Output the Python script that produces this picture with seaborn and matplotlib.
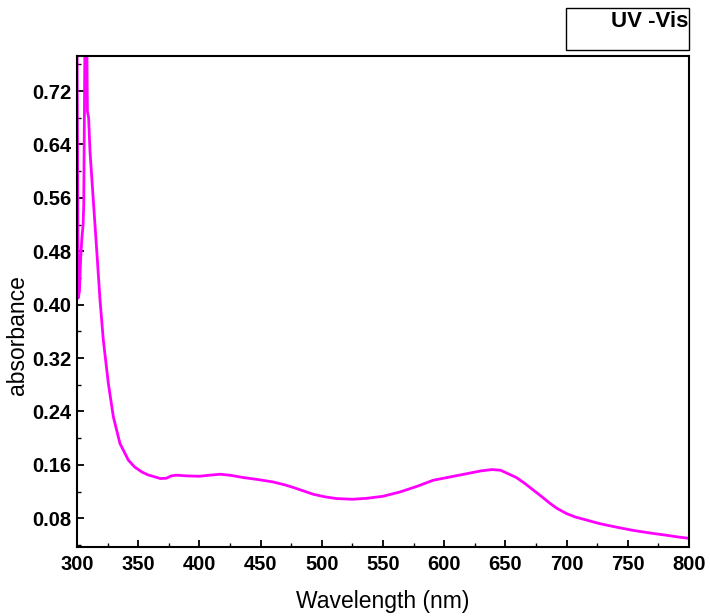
import numpy as np
import pandas as pd
import matplotlib
matplotlib.use("Agg")
import matplotlib.pyplot as plt
import seaborn as sns
from matplotlib.patches import Rectangle
from matplotlib.ticker import MultipleLocator

wavelength = [300.0, 301.0, 302.0, 303.0, 304.0, 305.0, 305.5, 306.5, 308.0,
              308.5, 309.5, 310.6, 313.3, 316.1, 318.8, 321.5, 325.6, 329.7,
              335.1, 342.0, 347.0, 352.9, 358.0, 363.7, 368.0, 373.0, 377.0,
              381.0, 390.0, 400.0, 408.0, 417.0, 425.0, 436.0, 448.0, 460.0,
              470.0, 477.0, 485.0, 493.0, 503.0, 512.0, 525.0, 537.0, 550.0,
              564.0, 578.0, 591.0, 605.0, 619.0, 630.0, 639.0, 646.0, 652.0,
              659.0, 666.0, 673.0, 680.0, 686.0, 692.0, 700.0, 707.0, 717.0,
              727.0, 740.0, 754.0, 768.0, 782.0, 791.0, 800.0]
absorbance = [0.80, 0.41, 0.42, 0.47, 0.50, 0.52, 0.55, 0.80, 0.80,
              0.69, 0.68, 0.63, 0.557, 0.482, 0.407, 0.347, 0.282, 0.232,
              0.192, 0.167, 0.157, 0.1495, 0.145, 0.142, 0.1396, 0.140, 0.1435,
              0.1446, 0.1435, 0.143, 0.1445, 0.146, 0.1445, 0.141, 0.138,
              0.1345, 0.130, 0.126, 0.121, 0.116, 0.112, 0.1096, 0.1085, 0.110,
              0.113, 0.1195, 0.128, 0.137, 0.142, 0.147, 0.151, 0.153, 0.152,
              0.147, 0.141, 0.132, 0.122, 0.112, 0.103, 0.095, 0.087, 0.082,
              0.077, 0.072, 0.067, 0.062, 0.058, 0.0545, 0.052, 0.050]
x_ticks = [300, 350, 400, 450, 500, 550, 600, 650, 700, 750, 800]
y_ticks = [0.08, 0.16, 0.24, 0.32, 0.40, 0.48, 0.56, 0.64, 0.72]
legend_label = "UV -Vis"

df = pd.DataFrame({"Wavelength": wavelength, "absorbance": absorbance})

sns.set_style("ticks")
plt.rcParams["font.family"] = ["Liberation Sans", "DejaVu Sans"]
plt.rcParams["text.color"] = "black"
plt.rcParams["axes.labelcolor"] = "black"
plt.rcParams["xtick.color"] = "black"
plt.rcParams["ytick.color"] = "black"

fig = plt.figure(figsize=(7.1, 6.16), dpi=100)
ax = fig.add_axes([77 / 710, (616 - 547) / 616, 612 / 710, 491 / 616])

sns.lineplot(data=df, x="Wavelength", y="absorbance", ax=ax,
             color="#FF00FF", linewidth=2.0, sort=False)

ax.set_xlim(300, 800)
ax.set_ylim(0.037, 0.7725)
ax.set_xticks(x_ticks)
ax.set_yticks(y_ticks)
ax.set_xticklabels([str(t) for t in x_ticks])
ax.set_yticklabels([f"{t:.2f}" for t in y_ticks])
ax.xaxis.set_minor_locator(MultipleLocator(25))
ax.yaxis.set_minor_locator(MultipleLocator(0.04))
ax.tick_params(axis="both", which="major", direction="in", length=5, width=1.3,
               labelsize=14.5, top=False, right=False, colors="black")
ax.tick_params(axis="both", which="minor", direction="in", length=3, width=1.0,
               top=False, right=False, colors="black")
ax.tick_params(axis="x", pad=6)
ax.tick_params(axis="y", pad=4)
for lab in ax.get_xticklabels() + ax.get_yticklabels():
    lab.set_fontweight("bold")
for s in ax.spines.values():
    s.set_visible(True)
    s.set_linewidth(1.5)
    s.set_color("black")

ax.set_xlabel("Wavelength (nm)", fontsize=16.5, color="black")
ax.set_ylabel("absorbance", fontsize=16.5, color="black")
ax.xaxis.set_label_coords(0.5, -0.088)
ax.yaxis.set_label_coords(-0.078, 0.432)

# legend-like box
fig.patches.append(Rectangle((566 / 710, 1 - 50 / 616), 123 / 710, 42 / 616,
                             transform=fig.transFigure, fill=False,
                             edgecolor="black", linewidth=1.0))
fig.text(688 / 710, 1 - 21.5 / 616, legend_label, ha="right", va="center",
         fontsize=16, fontweight="bold", color="black")

fig.savefig("out.png", dpi=100)
